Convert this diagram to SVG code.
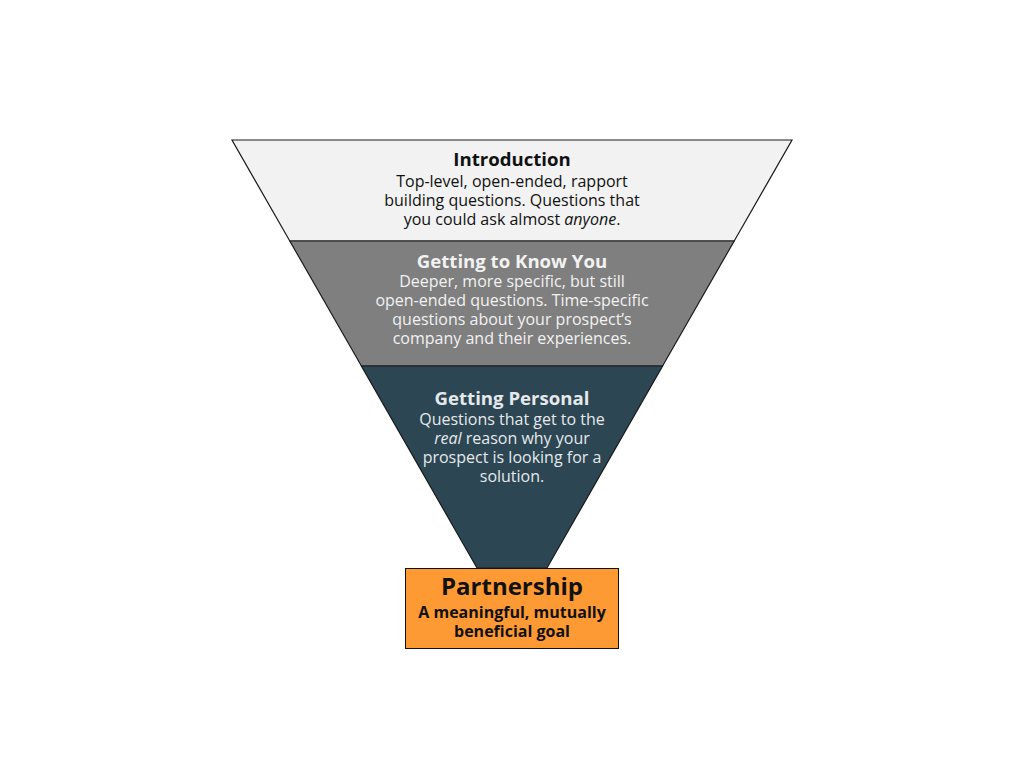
<svg xmlns="http://www.w3.org/2000/svg" width="1024" height="768" viewBox="0 0 1024 768">
<style>
.band{stroke:#1a1a1a;stroke-width:1.2;stroke-linejoin:miter}
text{font-family:"Open Sans","Noto Sans","Liberation Sans",sans-serif;text-anchor:middle}
.t{font-size:18.6px;font-weight:bold}
.b{font-size:16px}
.dark{fill:#111}
.light{fill:#f2f2f2}
.light2{fill:#e6e9eb}
</style>
<rect width="1024" height="768" fill="#fff"/>
<g id="introduction">
<polygon class="band" points="232,140 792,140 734.2,241 289.8,241" fill="#f2f2f2"/>
<text class="t dark" x="512" y="166">Introduction</text>
<text class="b dark" x="512" y="187">Top-level, open-ended, rapport</text>
<text class="b dark" x="512" y="206">building questions. Questions that</text>
<text class="b dark" x="512" y="225">you could ask almost <tspan font-style="italic">anyone</tspan>.</text>
</g>
<g id="getting-to-know-you">
<polygon class="band" points="289.8,241 734.2,241 662.6,366 361.4,366" fill="#7f7f7f"/>
<text class="t light" x="512" y="268">Getting to Know You</text>
<text class="b light" x="512" y="287">Deeper, more specific, but still</text>
<text class="b light" x="512" y="306">open-ended questions. Time-specific</text>
<text class="b light" x="512" y="325">questions about your prospect’s</text>
<text class="b light" x="512" y="344">company and their experiences.</text>
</g>
<g id="getting-personal">
<polygon class="band" points="361.4,366 662.6,366 547,568 477,568" fill="#2c4653"/>
<text class="t light2" x="512" y="405">Getting Personal</text>
<text class="b light2" x="512" y="425">Questions that get to the</text>
<text class="b light2" x="512" y="444"><tspan font-style="italic">real</tspan> reason why your</text>
<text class="b light2" x="512" y="463">prospect is looking for a</text>
<text class="b light2" x="512" y="482">solution.</text>
</g>
<g id="partnership">
<rect x="405.5" y="568.5" width="213" height="80" fill="#fd9a33" stroke="#111" stroke-width="1"/>
<text class="dark" x="512" y="595" font-size="24" font-weight="bold">Partnership</text>
<text class="dark" x="512" y="618" font-size="16" font-weight="bold">A meaningful, mutually</text>
<text class="dark" x="512" y="637" font-size="16" font-weight="bold">beneficial goal</text>
</g>
<g id="connectors"></g>
</svg>
